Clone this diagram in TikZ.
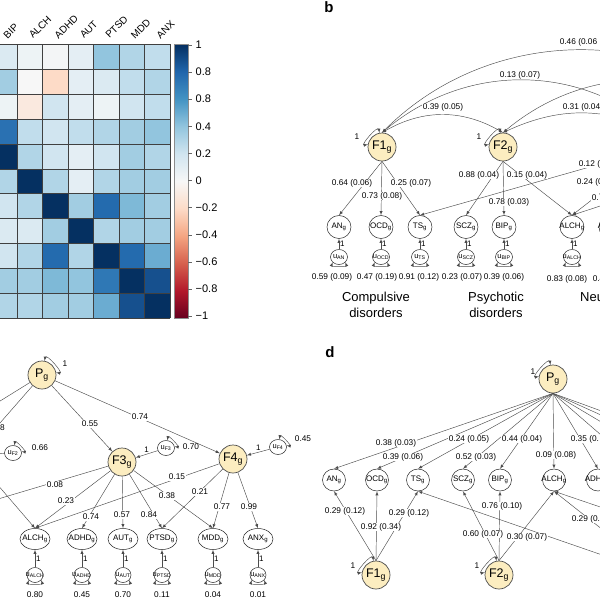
\documentclass[tikz,border=0pt]{standalone}
\usepackage{fontspec}
\setmainfont{Liberation Sans}
\setsansfont{Liberation Sans}
\usetikzlibrary{arrows, shapes.geometric}

% colours of the map (red - white - blue)
\definecolor{p0}{HTML}{F7F7F7}
\definecolor{p1}{HTML}{D1E5F0}
\definecolor{p2}{HTML}{92C5DE}
\definecolor{p3}{HTML}{4393C3}
\definecolor{p4}{HTML}{2166AC}
\definecolor{p5}{HTML}{053061}
\definecolor{n0}{HTML}{F7F7F7}
\definecolor{n1}{HTML}{FDDBC7}
\definecolor{n2}{HTML}{F4A582}
\definecolor{n3}{HTML}{D6604D}
\definecolor{n4}{HTML}{B2182B}
\definecolor{n5}{HTML}{67001F}
\definecolor{facfill}{RGB}{252,237,192}

\pgfdeclareverticalshading{rdbu}{100bp}{color(0bp)=(n5); color(25bp)=(n5);
  color(30bp)=(n4); color(35bp)=(n3); color(40bp)=(n2); color(45bp)=(n1);
  color(50bp)=(p0); color(55bp)=(p1); color(60bp)=(p2); color(65bp)=(p3);
  color(70bp)=(p4); color(75bp)=(p5); color(100bp)=(p5)}

\newcommand{\sg}{\textsubscript{g}}
\newcommand{\ilab}[1]{\makebox[0pt]{#1\textsubscript{g}}}
\newcommand{\ulab}[1]{\makebox[0pt]{u\textsubscript{#1}}}
\newcommand{\heatcolor}[1]{%
  \pgfmathsetmacro{\hva}{abs(#1)*5}%
  \pgfmathtruncatemacro{\hk}{min(floor(\hva),4)}%
  \pgfmathtruncatemacro{\hkk}{\hk+1}%
  \pgfmathtruncatemacro{\hpc}{round((\hva-\hk)*100)}%
  \ifdim #1pt<0pt\relax
    \colorlet{cellc}{n\hkk!\hpc!n\hk}%
  \else
    \colorlet{cellc}{p\hkk!\hpc!p\hk}%
  \fi}

\tikzset{
  hmline/.style={black!75, line width=0.45pt},
  collbl/.style={rotate=45, anchor=south west, inner sep=0.5pt, font=\fontsize{10}{11}\selectfont},
  cbl/.style={anchor=west, inner sep=0.5pt, font=\fontsize{11}{12}\selectfont},
  fac/.style={circle, draw=black!70, line width=0.7pt, fill=facfill, minimum size=28pt, inner sep=0pt, font=\fontsize{12.5}{13}\selectfont},
  ind/.style={ellipse, draw=black!85, line width=0.5pt, fill=white, minimum width=24pt, minimum height=23pt, inner sep=0pt, font=\fontsize{8}{9}\selectfont},
  err/.style={ellipse, draw=black!85, line width=0.5pt, fill=white, minimum width=17pt, minimum height=15pt, inner sep=0pt, font=\fontsize{7.5}{8}\selectfont},
  ld/.style={draw=black!70, line width=0.45pt, -latex},
  cov/.style={draw=black!70, line width=0.45pt, latex-latex},
  lbl/.style={fill=white, inner sep=0.6pt, font=\fontsize{8.3}{9}\selectfont},
  val/.style={inner sep=0.6pt, font=\fontsize{8.3}{9}\selectfont},
  fixlbl/.style={right, inner sep=1pt, font=\fontsize{8}{9}\selectfont},
  grp/.style={align=center, font=\fontsize{13}{16}\selectfont},
  panel/.style={font=\fontsize{15}{15}\selectfont\bfseries}
}

\begin{document}
\begin{tikzpicture}[x=1pt, y=1pt, font=\sffamily]
	\useasboundingbox (0,0) rectangle (600,-600);
	\clip (0,0) rectangle (600,-600);

	% a: correlation map
	\foreach \vals [count=\r] in {
		{0.15,0.05,0.02,0.10,0.40,0.30,0.25},
		{0.35,0.0,-0.2,0.10,0.15,0.25,0.30},
		{0.05,-0.1,0.20,0.10,0.05,0.20,0.25},
		{0.75,0.25,0.20,0.25,0.30,0.35,0.40},
		{1,0.30,0.20,0.10,0.20,0.35,0.30},
		{0.30,1,0.30,0.10,0.30,0.35,0.35},
		{0.20,0.30,1,0.35,0.78,0.45,0.35},
		{0.15,0.15,0.35,1,0.30,0.35,0.35},
		{0.20,0.30,0.78,0.30,1,0.78,0.50},
		{0.35,0.35,0.45,0.40,0.72,1,0.88},
		{0.30,0.30,0.35,0.35,0.50,0.88,1}} {
		\foreach \v [count=\c] in \vals {
			\heatcolor{\v}
			\fill[cellc] ({-8.5+25.5*(\c-1)},{-44.3-24.9*(\r-1)}) rectangle ++(25.5,-24.9);
		}
	}
	\foreach \c in {0,...,7}
		\draw[hmline] ({-8.5+25.5*\c},-44.3) -- ++(0,-273.9);
	\foreach \r in {0,...,11}
		\draw[hmline] (-8.5,{-44.3-24.9*\r}) -- (170,{-44.3-24.9*\r});
	\foreach \t [count=\c] in {BIP,ALCH,ADHD,AUT,PTSD,MDD,ANX}
		\node[collbl] at ({7.7+25.5*(\c-1)},-40) {\t};

	% colour bar
	\shade[shading=rdbu] (174,-44.3) rectangle (188,-318.2);
	\draw[black!45, line width=0.4pt] (174,-44.3) rectangle (188,-318.2);
	\foreach \t [count=\k from 0] in {1,0.8,0.8,0.4,0.2,0,−0.2,−0.4,−0.6,−0.8,−1} {
		\draw[black!60, line width=0.4pt] (188,{-45-27.1*\k}) -- ++(4,0);
		\node[cbl] at (195,{-45-27.1*\k}) {\t};
	}

	% b: correlated factors
	\node[panel] at (329,-7) {b};
	\node[fac] (bF1) at (382,-147) {F1\sg};
	\node[fac] (bF2) at (503,-147) {F2\sg};
	\node[fac] (bF3) at (660,-147) {F3\sg};
	\node[fac] (bF4) at (780,-147) {F4\sg};
	\foreach \n/\x in {AN/339, OCD/381, TS/420, SCZ/466, BIP/504, ALCH/572, ADHD/611} {
		\node[ind] (b\n) at (\x,-227) {\ilab{\n}};
		\node[err] (bu\n) at (\x,-257) {\ulab{\n}};
		\draw[ld] (bu\n) -- node[fixlbl] {1} (b\n);
		\draw[cov] (bu\n.220) to[out=250,in=290,looseness=1] (bu\n.320);
	}
	\draw[cov] (bF1.100) to[out=100,in=190,looseness=1.3] (bF1.170);
	\draw[cov] (bF2.100) to[out=100,in=190,looseness=1.3] (bF2.170);
	\draw[cov] (bF1.north) to[bend left=30] (bF2.north);
	\draw[cov] (bF1.north) to[bend left=40] (bF3.north);
	\draw[cov] (bF1.north) to[bend left=45] (bF4.north);
	\draw[cov] (bF2.north) to[bend left=25] (bF3.north);
	\draw[cov] (bF2.north) to[bend left=40] (bF4.north);
	\draw[ld] (bF1.south) -- (bAN.north);
	\draw[ld] (bF1.south) -- (bOCD.north);
	\draw[ld] (bF1.south) -- (bTS.north);
	\draw[ld] (bF2.south) -- (bSCZ.north);
	\draw[ld] (bF2.south) -- (bBIP.north);
	\draw[ld] (bF2.south) -- (bALCH.north);
	\draw[ld] (bF3) -- (bTS.north);
	\draw[ld] (bF3) -- (bALCH.north);
	\draw[ld] (bF4) -- (bALCH.north);

	\node[lbl] at (352,-183) {0.64 (0.06)};
	\node[lbl] at (382,-196) {0.73 (0.08)};
	\node[lbl] at (411,-183) {0.25 (0.07)};
	\node[lbl] at (479,-175) {0.88 (0.04)};
	\node[lbl] at (527,-175) {0.15 (0.04)};
	\node[lbl] at (509,-202) {0.78 (0.03)};
	\node[lbl] at (443,-107) {0.39 (0.05)};
	\node[lbl] at (520,-75) {0.13 (0.07)};
	\node[lbl, anchor=west] at (559,-42) {0.46 (0.06};
	\node[lbl, anchor=west] at (562,-107) {0.31 (0.04};
	\node[lbl, anchor=west] at (578,-164) {0.12 (};
	\node[lbl, anchor=west] at (576,-182) {0.24 (0};
	\node[lbl, anchor=west] at (591,-198) {0.};
	\node[val] at (357,-137) {1};
	\node[val] at (479,-137) {1};
	\node[val] at (332,-277) {0.59 (0.09)};
	\node[val] at (377,-277) {0.47 (0.19)};
	\node[val] at (419,-277) {0.91 (0.12)};
	\node[val] at (462,-277) {0.23 (0.07)};
	\node[val] at (504,-277) {0.39 (0.06)};
	\node[val] at (567,-279) {0.83 (0.08)};
	\node[val, anchor=west] at (592,-279) {0.4};
	\node[grp] at (376,-305) {Compulsive\\disorders};
	\node[grp] at (496,-305) {Psychotic\\disorders};
	\node[grp, anchor=west, inner sep=0pt] at (580,-297) {Neu};

	% c: hierarchical model
	\node[fac] (cP) at (42,-375) {P\sg};
	\node[fac] (cF1) at (-95,-460) {F1\sg};
	\node[fac] (cF2) at (-28,-455) {F2\sg};
	\node[fac] (cF3) at (122,-462) {F3\sg};
	\node[fac] (cF4) at (233,-459) {F4\sg};
	\node[err] (cuF2) at (13,-453) {\ulab{F2}};
	\node[err] (cuF3) at (166,-448) {\ulab{F3}};
	\node[err] (cuF4) at (278,-447) {\ulab{F4}};
	\node[ind, minimum width=30pt, minimum height=21pt] (cTS) at (-100,-539) {\ilab{TS}};
	\foreach \n/\x in {ALCH/35, ADHD/82, AUT/123, PTSD/162, MDD/213, ANX/258} {
		\node[ind, minimum width=30pt, minimum height=21pt] (c\n) at (\x,-539) {\ilab{\n}};
		\node[err, minimum width=16pt] (cu\n) at (\x,-575) {\ulab{\n}};
		\draw[ld] (cu\n) -- node[fixlbl] {1} (c\n);
		\draw[cov] (cu\n.220) to[out=250,in=290,looseness=1] (cu\n.320);
	}
	\draw[cov] (cP.80) to[out=80,in=-10,looseness=1.3] (cP.10);
	\draw[cov] (cuF2.80) to[out=80,in=-10,looseness=1.6] (cuF2.10);
	\draw[cov] (cuF3.80) to[out=80,in=-10,looseness=1.6] (cuF3.10);
	\draw[cov] (cuF4.80) to[out=80,in=-10,looseness=1.6] (cuF4.10);
	\draw[ld] (cP) -- (cF1);
	\draw[ld] (cP) -- (cF2);
	\draw[ld] (cP) -- (cF3);
	\draw[ld] (cP) -- (cF4);
	\draw[ld] (cuF2) -- (cF2);
	\draw[ld] (cuF3) -- node[above, inner sep=1.5pt, font=\fontsize{8}{9}\selectfont] {1} (cF3);
	\draw[ld] (cuF4) -- node[above, inner sep=1.5pt, font=\fontsize{8}{9}\selectfont] {1} (cF4);
	\draw[ld] (cF2) -- (cALCH.north);
	\draw[ld] (cF3) -- (cTS.north);
	\draw[ld] (cF3) -- (cALCH.north);
	\draw[ld] (cF3) -- (cADHD.north);
	\draw[ld] (cF3) -- (cAUT.north);
	\draw[ld] (cF3) -- (cPTSD.north);
	\draw[ld] (cF3) -- (cMDD.north);
	\draw[ld] (cF4) -- (cALCH.north);
	\draw[ld] (cF4) -- (cPTSD.north);
	\draw[ld] (cF4) -- (cMDD.north);
	\draw[ld] (cF4) -- (cANX.north);

	\node[val] at (65,-364) {1};
	\node[lbl, anchor=east] at (5.5,-428) {8};
	\node[lbl] at (90,-424) {0.55};
	\node[lbl] at (140,-417) {0.74};
	\node[val] at (40,-448) {0.66};
	\node[val] at (191,-447) {0.70};
	\node[val] at (303,-439) {0.45};
	\node[lbl] at (55,-485) {0.08};
	\node[lbl] at (66,-501) {0.23};
	\node[lbl] at (91,-517) {0.74};
	\node[lbl] at (122,-515) {0.57};
	\node[lbl] at (149,-515) {0.84};
	\node[lbl] at (167,-496) {0.38};
	\node[lbl] at (177,-477) {0.15};
	\node[lbl] at (200,-492) {0.21};
	\node[lbl] at (222,-507) {0.77};
	\node[lbl] at (249,-507) {0.99};
	\foreach \t/\x in {0.80/35, 0.45/82, 0.70/123, 0.11/162, 0.04/213, 0.01/258}
		\node[val] at (\x,-595) {\t};

	% d: bifactor model
	\node[panel] at (330,-352) {d};
	\node[fac] (dP) at (553,-379) {P\sg};
	\node[fac] (dF1) at (376,-575) {F1\sg};
	\node[fac] (dF2) at (499,-575) {F2\sg};
	\node[fac] (dF3) at (660,-575) {F3\sg};
	\node[fac] (dF4) at (800,-575) {F4\sg};
	\foreach \n/\x in {AN/334, OCD/377, TS/418, SCZ/463, BIP/500, ALCH/554, ADHD/598, AUT/640, PTSD/680, MDD/720, ANX/760} {
		\node[ind, minimum width=23pt, minimum height=22pt] (d\n) at (\x,-480) {\ilab{\n}};
		\draw[ld] (dP.south) -- (d\n.north);
	}
	\draw[cov] (dP.100) to[out=100,in=190,looseness=1.3] (dP.170);
	\draw[cov] (dF1.100) to[out=100,in=190,looseness=1.3] (dF1.170);
	\draw[cov] (dF2.100) to[out=100,in=190,looseness=1.3] (dF2.170);
	\draw[ld] (dF1.north) -- (dAN.south);
	\draw[ld] (dF1.north) -- (dOCD.south);
	\draw[ld] (dF1.north) -- (dTS.south);
	\draw[ld] (dF2.north) -- (dSCZ.south);
	\draw[ld] (dF2.north) -- (dBIP.south);
	\draw[ld] (dF2.north) -- (dALCH.south);
	\draw[ld] (dF3) -- (dTS.south);
	\draw[ld] (dF3) -- (dALCH.south);
	\draw[ld] (dF4) -- (dALCH.south);

	\node[val] at (533,-372) {1};
	\node[val] at (353,-566) {1};
	\node[val] at (477,-566) {1};
	\node[lbl] at (396,-443) {0.38 (0.03)};
	\node[lbl] at (403,-457) {0.39 (0.06)};
	\node[lbl] at (469,-439) {0.24 (0.05)};
	\node[lbl] at (476,-457) {0.52 (0.03)};
	\node[lbl] at (522,-439) {0.44 (0.04)};
	\node[lbl] at (556,-455) {0.09 (0.08)};
	\node[lbl, anchor=west] at (570,-439) {0.35 (0.};
	\node[lbl] at (345,-511) {0.29 (0.12)};
	\node[lbl] at (381,-527) {0.92 (0.34)};
	\node[lbl] at (409,-513) {0.29 (0.12)};
	\node[lbl] at (483,-534) {0.60 (0.07)};
	\node[lbl] at (502,-506) {0.76 (0.10)};
	\node[lbl] at (527,-537) {0.30 (0.07)};
	\node[lbl, anchor=west] at (571,-519) {0.29 (0.};
\end{tikzpicture}
\end{document}
